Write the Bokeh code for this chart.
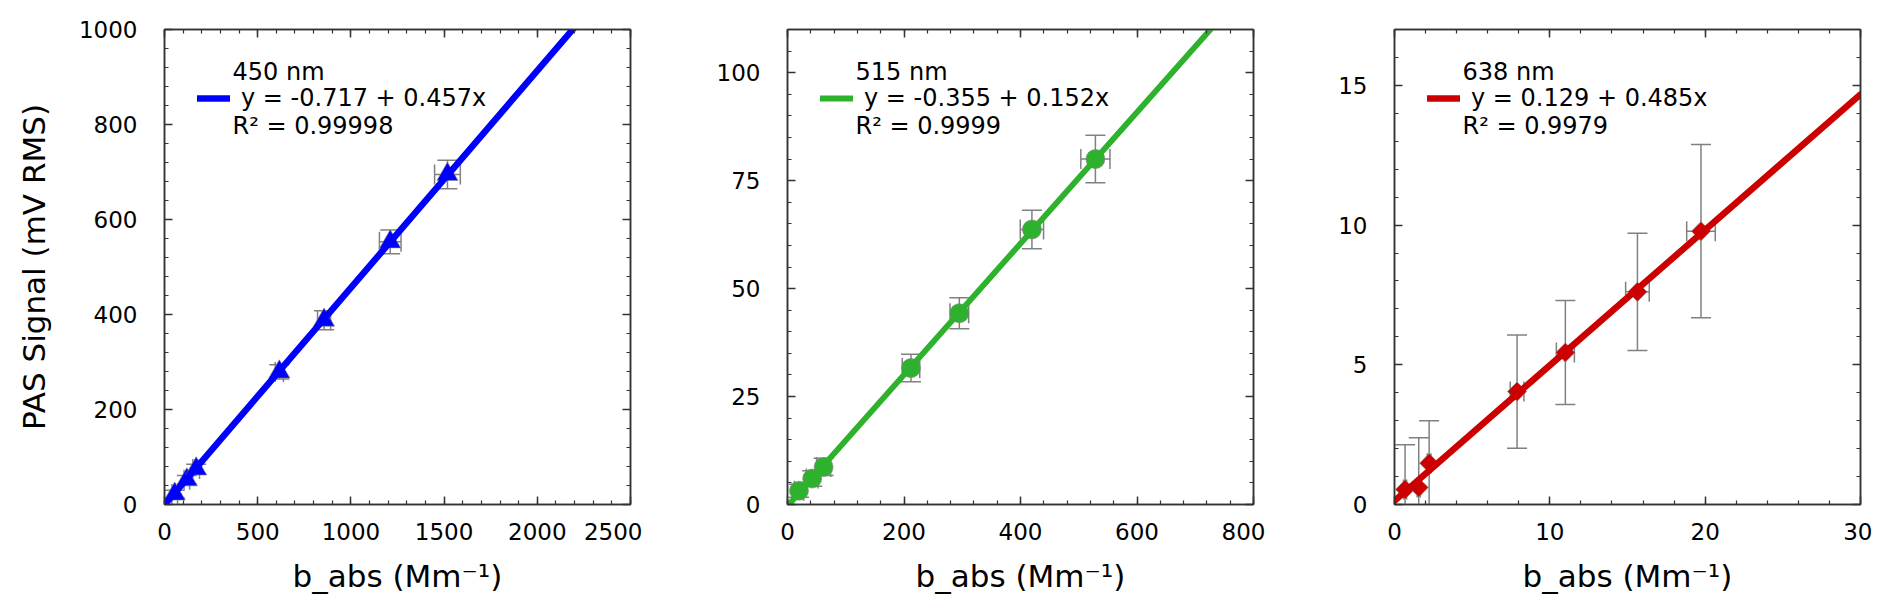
import numpy as np
from bokeh.plotting import figure
from bokeh.layouts import row
from bokeh.models import (ColumnDataSource, Whisker, TeeHead, SingleIntervalTicker,
                          LinearAxis, Legend, LegendItem, Label, Range1d)
from bokeh.embed import file_html
from bokeh.resources import INLINE

FONT = "DejaVu Sans"

# ---- data -----------------------------------------------------------------
wavelengths = ["450 nm", "515 nm", "638 nm"]

x450 = [55, 120, 170, 616, 856, 1211, 1518]
y450 = [22, 52, 75, 279, 388, 553, 695]
xe450 = [15, 15, 18, 22, 35, 58, 69]
ye450 = [8, 9, 10, 15, 20, 25, 30]

x515 = [19.7, 42.4, 62.0, 212, 295, 419.6, 528.6]
y515 = [3.2, 6.0, 8.7, 31.6, 44.3, 63.7, 80.0]
xe515 = [8, 10, 12, 15, 16, 20, 25]
ye515 = [1.5, 1.8, 2.0, 3.2, 3.6, 4.45, 5.5]

x638 = [0.68, 1.56, 2.23, 7.89, 11.0, 15.64, 19.73]
y638 = [0.54, 0.61, 1.48, 4.04, 5.44, 7.61, 9.78]
xe638 = [0.1, 0.1, 0.12, 0.44, 0.58, 0.76, 0.92]
ye638 = [1.6, 1.78, 1.52, 2.03, 1.86, 2.1, 3.1]

intercepts = [-0.717, -0.355, 0.129]
slopes = [0.457, 0.152, 0.485]
r2_labels = ["R\u00b2 = 0.99998", "R\u00b2 = 0.9999", "R\u00b2 = 0.9979"]

x_max = [2500, 800, 30]
y_max = [1000, 110, 17]
x_tick_step = [500, 200, 10]
y_tick_step = [200, 25, 5]

colors = ["#0000ff", "#2eb22e", "#cc0000"]
markers = ["triangle", "circle", "square"]
marker_sizes = [21, 19, 13.5]
marker_angles = [0.0, 0.0, np.pi / 4]
line_widths = [6.5, 5.8, 6.5]

# ---- layout (pixels) --------------------------------------------------------
FRAME_W, FRAME_H = 466, 475
left_borders = [164, 145, 129]
RIGHT_BORDER = 12
TOP_BORDER = 29
BOTTOM_BORDER = 100

AXIS_COL = "#333333"
ERR_COL = "#808080"


def style_axis(ax, show_labels=True):
    ax.axis_line_color = AXIS_COL
    ax.axis_line_width = 1.5
    ax.major_tick_in = 8
    ax.major_tick_out = 0
    ax.minor_tick_in = 4
    ax.minor_tick_out = 0
    ax.major_tick_line_color = AXIS_COL
    ax.minor_tick_line_color = AXIS_COL
    ax.major_tick_line_width = 1.5
    ax.minor_tick_line_width = 1.2
    ax.major_label_text_font = FONT
    ax.axis_label_text_font = FONT
    ax.axis_label_text_font_style = "normal"
    ax.axis_label_text_color = "black"
    if show_labels:
        ax.major_label_text_color = "black"
        ax.major_label_text_font_size = "23px"
        ax.axis_label_text_font_size = "31px"
    else:
        ax.major_label_text_color = None
        ax.major_label_text_font_size = "0px"
        ax.major_label_standoff = 0


def make_panel(i, xs, ys, xerr, yerr):
    p = figure(frame_width=FRAME_W, frame_height=FRAME_H,
               x_range=Range1d(0, x_max[i]), y_range=Range1d(0, y_max[i]),
               output_backend="svg", toolbar_location=None,
               min_border_left=left_borders[i], min_border_right=RIGHT_BORDER,
               min_border_top=TOP_BORDER, min_border_bottom=BOTTOM_BORDER,
               background_fill_color="white", border_fill_color="white")
    p.grid.visible = False
    p.outline_line_color = AXIS_COL
    p.outline_line_width = 1.5

    xt = SingleIntervalTicker(interval=x_tick_step[i], num_minor_ticks=5)
    yt = SingleIntervalTicker(interval=y_tick_step[i], num_minor_ticks=5)
    p.xaxis.ticker = xt
    p.yaxis.ticker = yt
    for ax in p.xaxis:
        style_axis(ax)
        ax.major_label_standoff = 18
        ax.axis_label = "b_abs (Mm\u207b\u00b9)"
        ax.axis_label_standoff = 15
    for ax in p.yaxis:
        style_axis(ax)
        ax.major_label_standoff = 27
        ax.axis_label_standoff = 24
        if i == 0:
            ax.axis_label = "PAS Signal (mV RMS)"

    top = LinearAxis(ticker=xt)
    style_axis(top, show_labels=False)
    p.add_layout(top, "above")
    right = LinearAxis(ticker=yt)
    style_axis(right, show_labels=False)
    p.add_layout(right, "right")

    xa = np.array(xs, dtype=float)
    ya = np.array(ys, dtype=float)
    xe = np.array(xerr, dtype=float)
    ye = np.array(yerr, dtype=float)
    src = ColumnDataSource(dict(x=xa, y=ya, xl=xa - xe, xu=xa + xe,
                                yl=ya - ye, yu=ya + ye))

    def tee():
        return TeeHead(size=20, line_color=ERR_COL, line_width=1.5)

    wy = Whisker(source=src, base="x", lower="yl", upper="yu", dimension="height",
                 line_color=ERR_COL, line_width=1.5,
                 lower_head=tee(), upper_head=tee(), level="underlay")
    wx = Whisker(source=src, base="y", lower="xl", upper="xu", dimension="width",
                 line_color=ERR_COL, line_width=1.5,
                 lower_head=tee(), upper_head=tee(), level="underlay")
    p.add_layout(wy)
    p.add_layout(wx)

    p.scatter(x="x", y="y", source=src, marker=markers[i], size=marker_sizes[i],
              angle=marker_angles[i], fill_color=colors[i],
              line_color=ERR_COL, line_width=1, line_alpha=0.6)

    fx = np.array([0.0, float(x_max[i])])
    fy = intercepts[i] + slopes[i] * fx
    line_r = p.line(fx, fy, line_color=colors[i], line_width=line_widths[i],
                    line_cap="round")

    eq = f"y = {intercepts[i]:.3f} + {slopes[i]:.3f}x"
    legend = Legend(items=[LegendItem(label=eq, renderers=[line_r])],
                    location=(33, 392), padding=0, margin=0, spacing=0,
                    glyph_width=33, glyph_height=26, label_height=26,
                    label_standoff=11, border_line_color=None,
                    background_fill_alpha=0.0,
                    label_text_font=FONT, label_text_font_size="24px",
                    label_text_color="black")
    p.add_layout(legend)

    p.add_layout(Label(x=68, y=433, x_units="screen", y_units="screen",
                       text=wavelengths[i], text_font=FONT,
                       text_font_size="24px", text_color="black",
                       text_baseline="alphabetic"))
    p.add_layout(Label(x=68, y=379, x_units="screen", y_units="screen",
                       text=r2_labels[i], text_font=FONT,
                       text_font_size="24px", text_color="black",
                       text_baseline="alphabetic"))
    return p


p1 = make_panel(0, x450, y450, xe450, ye450)
p2 = make_panel(1, x515, y515, xe515, ye515)
p3 = make_panel(2, x638, y638, xe638, ye638)

layout = row(p1, p2, p3)
open("out.html", "w").write(file_html(layout, INLINE))
